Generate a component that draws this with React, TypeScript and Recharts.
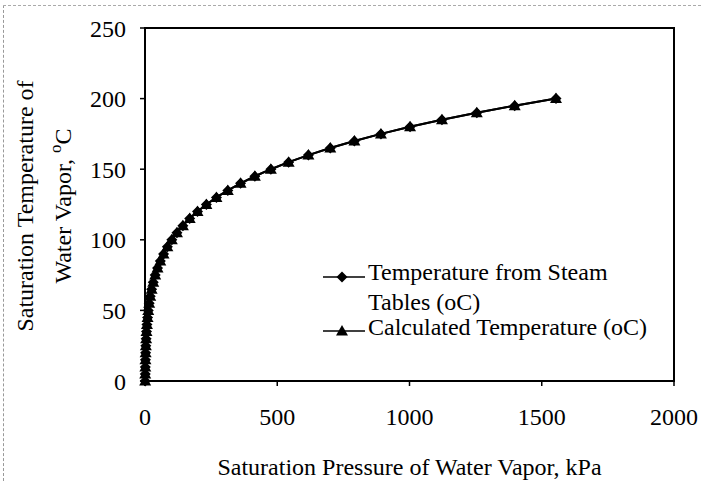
import { Line, LineChart, ReferenceArea, XAxis, YAxis } from "recharts";

// saturation pressure (kPa) and temperature (oC)
const steamPressure = [
  0.6113, 0.8721, 1.2276, 1.7051, 2.339, 3.169, 4.246, 5.628, 7.384, 9.593, 12.349, 15.758, 19.94, 25.03,
  31.19, 38.58, 47.39, 57.83, 70.14, 84.55, 101.35, 120.82, 143.27, 169.06, 198.53, 232.1, 270.1, 313.0,
  361.3, 415.4, 475.8, 543.1, 617.8, 700.5, 791.7, 892.0, 1002.1, 1122.7, 1254.4, 1397.8, 1553.8,
];
const steamTemp = [
  0.01, 5, 10, 15, 20, 25, 30, 35, 40, 45, 50, 55, 60, 65, 70, 75, 80, 85, 90, 95, 100, 105, 110, 115, 120,
  125, 130, 135, 140, 145, 150, 155, 160, 165, 170, 175, 180, 185, 190, 195, 200,
];
const calcTemp = [
  0.0, 5, 10, 15, 20, 25, 30, 35, 40, 45, 50, 55, 60, 65, 70, 75, 80, 85, 90, 95, 100, 105, 110, 115, 120,
  125, 130, 135, 140, 145, 150, 155, 160, 165, 170, 175, 180, 185, 190, 195, 200,
];
const xTicks = [0, 500, 1000, 1500, 2000];
const yTicks = [0, 50, 100, 150, 200, 250];

const steamData = steamPressure.map((p, i) => ({ p, t: steamTemp[i] }));
const calcData = steamPressure.map((p, i) => ({ p, t: calcTemp[i] }));

const font = "'Liberation Serif', 'Times New Roman', serif";

function Diamond(props: any) {
  const { cx, cy } = props;
  if (cx == null || cy == null) return null;
  const s = 5.5;
  return <path d={`M${cx},${cy - s}L${cx + s},${cy}L${cx},${cy + s}L${cx - s},${cy}Z`} fill="#000" />;
}

function Triangle(props: any) {
  const { cx, cy } = props;
  if (cx == null || cy == null) return null;
  return <path d={`M${cx},${cy - 6}L${cx + 6},${cy + 4.5}L${cx - 6},${cy + 4.5}Z`} fill="#000" />;
}

function LegendBox() {
  const text = { fontFamily: font, fontSize: 24, fill: "#000" };
  return (
    <svg width={340} height={92} style={{ position: "absolute", left: 318, top: 257 }}>
      <line x1={5} x2={47} y1={20} y2={20} stroke="#000" strokeWidth={1.5} />
      <Diamond cx={24} cy={20} />
      <text x={50} y={23} {...text}>Temperature from Steam</text>
      <text x={50} y={53} {...text}>Tables (oC)</text>
      <line x1={5} x2={47} y1={74} y2={74} stroke="#000" strokeWidth={1.5} />
      <Triangle cx={24} cy={74} />
      <text x={50} y={78} {...text}>Calculated Temperature (oC)</text>
    </svg>
  );
}

function YTitle() {
  return (
    <g fontFamily={font} fontSize={24} fill="#000">
      <text transform="translate(33,206) rotate(-90)" textAnchor="middle">
        Saturation Temperature of
      </text>
      <text transform="translate(71,206) rotate(-90)" textAnchor="middle">
        Water Vapor, <tspan fontSize={17} dy={-10}>o</tspan>
        <tspan dy={10}>C</tspan>
      </text>
    </g>
  );
}

export default function App() {
  const tick = { fill: "#000", fontSize: 24, fontFamily: font };
  return (
    <div style={{ position: "fixed", left: 0, top: 0, width: 701, height: 481, background: "#fff" }}>
      <div
        style={{
          position: "absolute",
          left: 3,
          top: 5,
          right: 0,
          bottom: 0,
          borderLeft: "1px dashed #999",
          borderTop: "1px dashed #aaa",
        }}
      />
      <LineChart width={701} height={481} margin={{ top: 28, right: 27, bottom: 0, left: 0 }}>
        <XAxis
          type="number"
          dataKey="p"
          domain={[0, 2000]}
          ticks={xTicks}
          tick={tick}
          tickSize={5}
          tickMargin={22}
          axisLine={{ stroke: "#000", strokeWidth: 2 }}
          tickLine={{ stroke: "#000", strokeWidth: 1.5 }}
          height={100}
          label={{
            value: "Saturation Pressure of Water Vapor, kPa",
            position: "insideBottom",
            offset: 2,
            dy: -4,
            style: { fill: "#000", fontSize: 24, fontFamily: font },
          }}
        />
        <YAxis
          type="number"
          dataKey="t"
          domain={[0, 250]}
          ticks={yTicks}
          tick={tick}
          tickSize={5}
          tickMargin={14}
          width={145}
          axisLine={{ stroke: "#000", strokeWidth: 2 }}
          tickLine={{ stroke: "#000", strokeWidth: 1.5 }}
          label={<YTitle />}
        />
        <ReferenceArea x1={0} x2={2000} y1={0} y2={250} fill="none" stroke="#000" strokeWidth={2} strokeOpacity={1} />
        <Line
          data={steamData}
          dataKey="t"
          stroke="#000"
          strokeWidth={2}
          dot={(props: any) => <Diamond key={`d${props.index}`} {...props} />}
          isAnimationActive={false}
        />
        <Line
          data={calcData}
          dataKey="t"
          stroke="#000"
          strokeWidth={2}
          dot={(props: any) => <Triangle key={`t${props.index}`} {...props} />}
          isAnimationActive={false}
        />
      </LineChart>
      <LegendBox />
    </div>
  );
}
